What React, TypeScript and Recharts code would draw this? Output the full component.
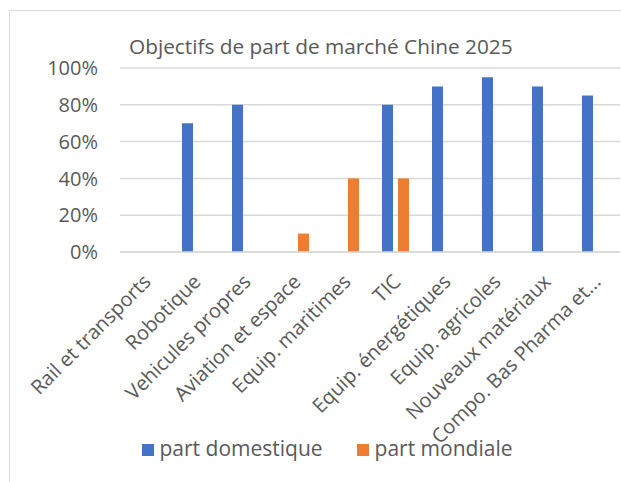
import React from 'react';
import { BarChart, Bar, XAxis, YAxis, CartesianGrid, Legend } from 'recharts';

const categories = [
  'Rail et transports',
  'Robotique',
  'Vehicules propres',
  'Aviation et espace',
  'Equip. maritimes',
  'TIC',
  'Equip. énergétiques',
  'Equip. agricoles',
  'Nouveaux matériaux',
  'Compo. Bas Pharma et...',
];
const partDomestique = [null, 0.7, 0.8, null, null, 0.8, 0.9, 0.95, 0.9, 0.85];
const partMondiale = [null, null, null, 0.1, 0.4, 0.4, null, null, null, null];
const yTicks = [0, 0.2, 0.4, 0.6, 0.8, 1];

const data = categories.map((name, i) => ({
  name,
  domestique: partDomestique[i],
  mondiale: partMondiale[i],
}));

const FONT = '"Open Sans", "Noto Sans", sans-serif';
const TEXT = '#595959';

const AngledTick = (props: any) => {
  const { x, y, payload } = props;
  const ax = x + 7;
  const ay = y + 23;
  return (
    <text
      x={ax}
      y={ay}
      transform={`rotate(-45 ${ax} ${ay})`}
      textAnchor="end"
      fill={TEXT}
      fontSize={20}
      fontFamily={FONT}
    >
      {payload.value}
    </text>
  );
};

export default function App() {
  return (
    <div
      style={{
        position: 'absolute',
        left: 0,
        top: 0,
        width: 621,
        height: 482,
        overflow: 'hidden',
        background: '#fff',
        fontFamily: FONT,
      }}
    >
      <div
        style={{
          position: 'absolute',
          left: 9,
          top: 10,
          width: 640,
          height: 500,
          border: '1px solid #d9d9d9',
        }}
      />
      <div
        style={{
          position: 'absolute',
          left: 129,
          top: 32,
          fontSize: 20.8,
          color: TEXT,
          whiteSpace: 'nowrap',
        }}
      >
        Objectifs de part de marché Chine 2025
      </div>
      <div style={{ position: 'absolute', left: 0, top: 0 }}>
        <BarChart
          width={621}
          height={482}
          data={data}
          margin={{ top: 68, right: 1, left: 0, bottom: 20 }}
          barSize={11}
          barGap={5}
        >
          <CartesianGrid vertical={false} stroke="#d9d9d9" strokeWidth={1.5} />
          <XAxis
            dataKey="name"
            interval={0}
            height={182}
            tickLine={false}
            axisLine={{ stroke: '#d9d9d9', strokeWidth: 1.5 }}
            tick={<AngledTick />}
          />
          <YAxis
            width={120}
            domain={[0, 1]}
            ticks={yTicks}
            tickFormatter={(v: number) => `${Math.round(v * 100)}%`}
            axisLine={false}
            tickLine={false}
            tickMargin={16}
            tick={{ fill: TEXT, fontSize: 20, fontFamily: FONT }}
          />
          <Legend
            verticalAlign="bottom"
            iconType="square"
            iconSize={12}
            wrapperStyle={{ fontSize: 21, fontFamily: FONT, paddingLeft: 22 }}
            formatter={(value: string, _entry: any, index: number) => (
              <span style={{ color: TEXT, marginLeft: 2, marginRight: index === 0 ? 24 : 0 }}>{value}</span>
            )}
          />
          <Bar dataKey="domestique" name="part domestique" fill="#4472C4" isAnimationActive={false} />
          <Bar dataKey="mondiale" name="part mondiale" fill="#ED7D31" isAnimationActive={false} />
        </BarChart>
      </div>
    </div>
  );
}
